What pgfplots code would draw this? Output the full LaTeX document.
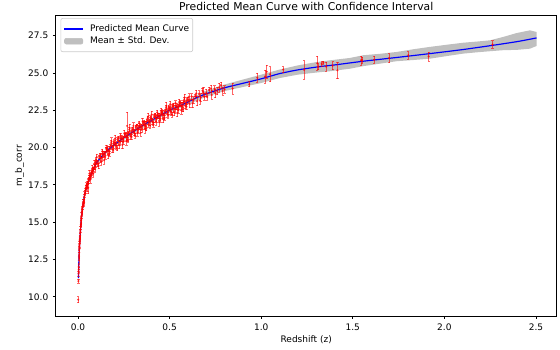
\documentclass[border=0pt]{standalone}
\usepackage{fontspec}
\setmainfont{DejaVu Sans}
\usepackage{pgfplots}
\pgfplotsset{compat=1.18}
\usepackage{pgfplotstable}
\definecolor{bandgray}{RGB}{191,191,191}
\definecolor{ptred}{RGB}{255,0,0}

\pgfplotstableread{
z m
0.0025 11.25
0.005 12.5
0.008 13.4
0.011 13.95
0.015 14.75
0.02 15.45
0.03 16.4
0.04 17.05
0.055 17.65
0.07 18.15
0.1 18.95
0.13 19.4
0.16 19.8
0.2 20.2
0.25 20.65
0.3 21.05
0.35 21.45
0.4 21.8
0.45 22.15
0.5 22.5
0.55 22.75
0.6 23.05
0.65 23.35
0.7 23.6
0.8 24.0
0.9 24.3
1.0 24.6
1.1 24.95
1.2 25.2
1.32 25.42
1.4 25.53
1.557 25.78
1.739 26.03
1.921 26.29
2.1 26.56
2.267 26.85
2.4 27.1
2.503 27.34
}\meancurve

\pgfplotstableread{
z m e
0.0010 9.80 0.20
0.0023 11.05 0.15
0.0030 11.55 0.15
0.0035 11.80 0.18
0.0040 12.00 0.15
0.0048 12.45 0.20
0.0055 12.70 0.15
0.0062 12.95 0.18
0.0070 13.15 0.20
0.0078 13.40 0.15
0.0085 13.50 0.20
0.0092 13.75 0.15
0.0100 13.85 0.20
0.0105 14.00 0.15
0.0115 14.10 0.18
0.0125 14.40 0.15
0.0135 14.50 0.20
0.0145 14.70 0.15
0.0155 14.85 0.18
0.0165 14.95 0.15
0.0175 15.15 0.20
0.0185 15.25 0.15
0.0195 15.45 0.18
0.0210 15.55 0.15
0.0220 15.85 0.22
0.0225 15.75 0.20
0.0240 15.85 0.15
0.0255 16.05 0.18
0.0270 16.15 0.15
0.0285 16.35 0.20
0.0300 16.40 0.15
0.0320 16.50 0.18
0.0330 16.30 0.25
0.0340 16.70 0.15
0.0360 16.85 0.20
0.0380 16.95 0.15
0.0400 17.10 0.18
0.0420 17.15 0.20
0.0440 17.45 0.20
0.0450 17.35 0.15
0.0480 17.45 0.18
0.0510 17.55 0.20
0.0520 17.30 0.25
0.0540 17.70 0.15
0.0560 17.30 0.40
0.0570 17.75 0.18
0.0600 17.95 0.20
0.0620 18.25 0.22
0.0630 18.00 0.15
0.0660 18.10 0.18
0.0680 17.85 0.25
0.0700 18.15 0.20
0.0730 18.35 0.15
0.0760 18.35 0.18
0.0780 18.60 0.20
0.0800 18.50 0.20
0.0830 18.25 0.22
0.0850 18.55 0.15
0.0880 18.90 0.25
0.0900 18.70 0.18
0.0930 18.55 0.20
0.0950 18.85 0.15
0.0970 19.10 0.22
0.100 19.07 0.15
0.1025 19.35 0.22
0.105 18.93 0.20
0.110 18.92 0.20
0.1125 18.77 0.18
0.115 19.38 0.12
0.120 19.50 0.12
0.1225 19.29 0.30
0.125 19.08 0.25
0.130 19.32 0.25
0.1325 19.74 0.15
0.135 19.55 0.18
0.140 19.58 0.18
0.1425 19.15 0.25
0.145 19.55 0.22
0.150 19.45 0.22
0.1525 19.97 0.20
0.155 19.89 0.14
0.160 19.98 0.14
0.1625 19.77 0.28
0.165 19.55 0.30
0.170 19.78 0.30
0.1725 19.59 0.16
0.175 20.05 0.16
0.180 20.30 0.16
0.1825 20.42 0.24
0.185 19.90 0.20
0.190 20.08 0.20
0.1925 19.84 0.19
0.195 20.37 0.15
0.200 20.32 0.15
0.2025 20.60 0.22
0.205 20.15 0.20
0.210 20.11 0.20
0.2125 19.96 0.18
0.215 20.54 0.12
0.220 20.63 0.12
0.2225 20.42 0.30
0.225 20.18 0.25
0.230 20.39 0.25
0.2325 20.81 0.15
0.235 20.60 0.18
0.240 20.61 0.18
0.2425 20.18 0.25
0.245 20.56 0.22
0.250 20.43 0.22
0.2525 20.95 0.20
0.255 20.84 0.14
0.260 20.91 0.14
0.2625 20.70 0.28
0.265 20.47 0.30
0.268 21.45 0.90
0.270 20.69 0.30
0.2725 20.50 0.16
0.275 20.95 0.16
0.280 21.19 0.16
0.2825 21.31 0.24
0.285 20.78 0.20
0.290 20.95 0.20
0.2925 20.71 0.19
0.295 21.23 0.15
0.300 21.17 0.15
0.3025 21.45 0.22
0.305 20.99 0.20
0.310 20.95 0.20
0.3125 20.80 0.18
0.315 21.37 0.12
0.320 21.46 0.12
0.3225 21.25 0.30
0.325 21.00 0.25
0.330 21.21 0.25
0.3325 21.63 0.15
0.335 21.41 0.18
0.340 21.42 0.18
0.3425 20.99 0.25
0.345 21.36 0.22
0.350 21.23 0.22
0.3525 21.75 0.20
0.355 21.64 0.14
0.360 21.70 0.14
0.3625 21.49 0.28
0.365 21.26 0.30
0.370 21.47 0.30
0.3725 21.28 0.16
0.375 21.73 0.16
0.380 21.96 0.16
0.3825 22.08 0.24
0.385 21.55 0.20
0.390 21.71 0.20
0.3925 21.47 0.19
0.395 21.99 0.15
0.400 21.92 0.15
0.4025 22.20 0.22
0.405 21.74 0.20
0.410 21.69 0.20
0.4125 21.54 0.18
0.415 22.11 0.12
0.420 22.19 0.12
0.4225 21.98 0.30
0.425 21.73 0.25
0.430 21.93 0.25
0.4325 22.35 0.15
0.435 22.13 0.18
0.440 22.13 0.18
0.4425 21.70 0.25
0.445 22.07 0.22
0.450 21.93 0.22
0.4525 22.45 0.20
0.455 22.34 0.14
0.460 22.40 0.14
0.4625 22.19 0.28
0.465 21.96 0.30
0.470 22.17 0.30
0.4725 21.98 0.16
0.475 22.43 0.16
0.480 22.66 0.16
0.4825 22.78 0.24
0.485 22.25 0.20
0.490 22.41 0.20
0.4925 22.17 0.19
0.495 22.69 0.15
0.500 22.62 0.15
0.5025 22.89 0.22
0.505 22.43 0.20
0.510 22.37 0.20
0.5125 22.21 0.18
0.515 22.78 0.12
0.520 22.85 0.12
0.5225 22.63 0.30
0.525 22.38 0.25
0.530 22.57 0.25
0.5325 22.98 0.15
0.535 22.76 0.18
0.540 22.75 0.18
0.5425 22.31 0.25
0.545 22.68 0.22
0.550 22.53 0.22
0.5525 23.04 0.20
0.555 22.93 0.14
0.560 22.99 0.14
0.5625 22.78 0.28
0.565 22.54 0.30
0.570 22.75 0.30
0.5725 22.56 0.16
0.575 23.00 0.16
0.580 23.23 0.16
0.5825 23.35 0.24
0.585 22.81 0.20
0.590 22.97 0.20
0.5925 22.73 0.19
0.595 23.24 0.15
0.600 23.15 0.20
0.605 23.40 0.20
0.610 22.91 0.25
0.620 23.42 0.18
0.625 22.95 0.28
0.630 23.18 0.22
0.640 23.44 0.15
0.645 23.62 0.22
0.650 23.10 0.30
0.660 23.60 0.20
0.665 23.15 0.25
0.670 23.35 0.25
0.680 23.80 0.18
0.685 23.72 0.30
0.690 23.40 0.22
0.700 23.65 0.25
0.705 23.38 0.22
0.715 23.86 0.20
0.725 23.95 0.25
0.730 23.52 0.30
0.745 23.93 0.22
0.750 23.62 0.28
0.760 23.79 0.25
0.770 24.02 0.30
0.780 24.17 0.20
0.790 23.78 0.25
0.800 23.90 0.25
0.844 23.95 0.37
0.935 24.24 0.17
0.979 24.67 0.30
1.021 24.75 0.45
1.030 25.08 0.45
1.048 24.91 0.50
1.120 25.22 0.20
1.234 25.20 0.62
1.306 25.64 0.47
1.312 25.42 0.20
1.330 25.60 0.15
1.339 25.68 0.10
1.354 25.42 0.30
1.390 25.48 0.27
1.416 25.17 0.55
1.545 25.84 0.30
1.550 25.86 0.20
1.616 25.88 0.25
1.698 25.99 0.30
1.803 26.18 0.25
1.914 26.10 0.30
2.263 26.90 0.25
}\obs

\begin{document}
\begin{tikzpicture}
\begin{axis}[
  at={(0,0)}, anchor=south west,
  scale only axis, width=501bp, height=300.3bp,
  xmin=-0.1217, xmax=2.613, ymin=8.71, ymax=28.83,
  axis line style={black, line width=0.62bp},
  tick style={black, line width=0.62bp},
  major tick length=2.72bp,
  tick align=outside,
  xtick pos=bottom, ytick pos=left,
  xtick={0,0.5,1,1.5,2,2.5},
  xticklabels={0.0,0.5,1.0,1.5,2.0,2.5},
  ytick={10,12.5,15,17.5,20,22.5,25,27.5},
  yticklabels={10.0,12.5,15.0,17.5,20.0,22.5,25.0,27.5},
  ticklabel style={font=\fontsize{9bp}{10.5bp}\selectfont},
  xticklabel style={yshift=-1.2bp},
  yticklabel style={xshift=-1.2bp},
  xlabel={Redshift (z)},
  xlabel style={at={(axis description cs:0.5,-0.0866)}, anchor=base, inner sep=0pt,
    font=\fontsize{9bp}{10.5bp}\selectfont},
  ylabel={m\_b\_corr},
  ylabel style={at={(axis description cs:-0.0673,0.5)}, anchor=base, inner sep=0pt,
    font=\fontsize{9bp}{10.5bp}\selectfont},
  legend style={at={(axis description cs:0.0096,0.9923)}, anchor=north west,
    draw=black!20, line width=0.6bp, rounded corners=2bp, fill=white,
    font=\fontsize{9bp}{10.5bp}\selectfont,
    inner xsep=3bp, inner ysep=5.8bp, row sep=2.8bp, column sep=6bp,
    nodes={inner sep=0.6bp}},
  legend cell align=left,
  clip=true,
]
% band
\addplot[draw=none, fill=bandgray, forget plot] coordinates {
(0.0025,11.40) (0.005,12.64) (0.011,14.08) (0.02,15.57) (0.04,17.17) (0.07,18.27)
(0.1,19.07) (0.16,19.92) (0.2,20.32) (0.3,21.18) (0.4,21.94) (0.5,22.65) (0.6,23.22)
(0.7,23.80) (0.8,24.22) (0.9,24.55) (1.0,24.88) (1.1,25.22) (1.2,25.50) (1.3,25.72)
(1.376,25.84) (1.485,26.00) (1.557,26.18) (1.65,26.28) (1.739,26.40) (1.83,26.58)
(1.921,26.74) (2.01,26.88) (2.103,27.02) (2.18,27.10) (2.249,27.18) (2.322,27.41)
(2.395,27.67) (2.467,27.85) (2.503,27.74)
(2.503,26.80) (2.467,26.62) (2.395,26.54) (2.322,26.52) (2.249,26.45) (2.18,26.38)
(2.103,26.29) (2.01,26.12) (1.921,25.95) (1.83,25.86) (1.739,25.78) (1.65,25.62)
(1.557,25.45) (1.485,25.28) (1.376,25.11) (1.3,25.02) (1.2,24.88) (1.1,24.65)
(1.0,24.32) (0.9,24.05) (0.8,23.78) (0.7,23.40) (0.6,22.88) (0.5,22.35) (0.4,21.66)
(0.3,20.92) (0.2,20.08) (0.16,19.68) (0.1,18.83) (0.07,18.03) (0.04,16.93)
(0.02,15.33) (0.011,13.82) (0.005,12.36) (0.0025,11.10)
} -- cycle;
% mean curve
\addplot[blue, line width=1.17bp, smooth, tension=0.3,
  legend image code/.code={\draw[draw=blue, line width=1.3bp] (0bp,0bp) -- (18.4bp,0bp);}]
  table[x=z, y=m] {\meancurve};
\addlegendentry{Predicted Mean Curve}
\addlegendimage{legend image code/.code={\fill[bandgray] (0bp,-2.9bp) rectangle (18.4bp,2.9bp);}}
\addlegendentry{Mean ± Std. Dev.}
% observations
\addplot[forget plot, only marks, mark=*, mark size=0.9bp, ptred, opacity=0.6,
  mark options={draw=none, fill=ptred},
  error bars/.cd, y dir=both, y explicit,
  error bar style={ptred, line width=0.6bp},
  error mark options={rotate=90, mark size=1.1bp, line width=0.6bp, ptred}]
  table[x=z, y=m, y error=e] {\obs};
\end{axis}
\node[anchor=base, inner sep=0pt, font=\fontsize{10.8bp}{12.5bp}\selectfont]
  at (250.5bp,305.3bp) {Predicted Mean Curve with Confidence Interval};
\pgfresetboundingbox
\path[use as bounding box] (-55.7bp,-34bp) rectangle (504.3bp,316bp);
\end{tikzpicture}
\end{document}
